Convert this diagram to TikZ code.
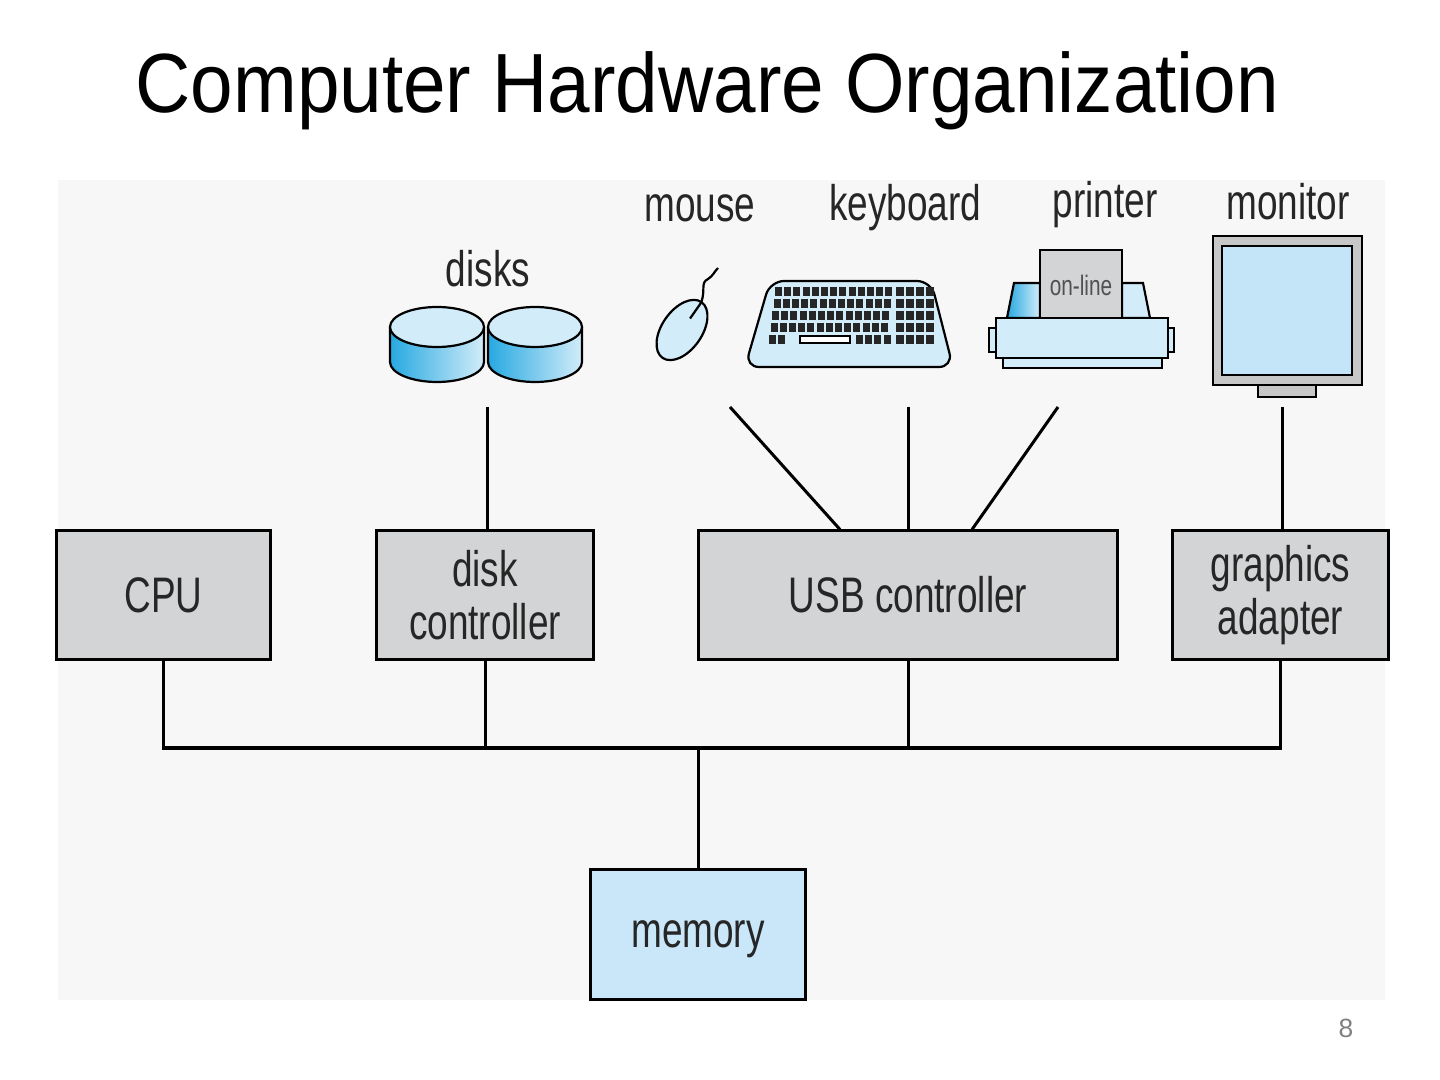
\documentclass[tikz,border=0pt]{standalone}
\usepackage{fontspec}
\setmainfont{Liberation Sans}
\newfontfamily\titlefont[FakeStretch=0.91]{Liberation Sans}
\newfontfamily\labelfont[FakeStretch=0.74]{Liberation Sans}
\definecolor{boxgray}{HTML}{D3D4D6}
\definecolor{memblue}{HTML}{C9E7F9}
\definecolor{devblue}{HTML}{D2ECF9}
\definecolor{scrblue}{HTML}{C4E4F7}
\definecolor{diskblue}{HTML}{27A9E1}
\definecolor{txt}{HTML}{262626}
\begin{document}
\begin{tikzpicture}[
          x = 0.01cm, y = -0.01cm,
          wire/.style = {draw, line width=0.03cm},
          part/.style = {draw, line width=0.022cm},
          box/.style = {draw, line width=0.03cm, fill=boxgray, minimum width=2.14cm,
                        minimum height=1.28cm, align=center, text=txt,
                        font=\labelfont\fontsize{14.2}{15.1}\selectfont},
          dev/.style = {anchor=base, text=txt, font=\labelfont\fontsize{14.2}{15.1}\selectfont},
        ]
        \useasboundingbox (0,0) rectangle (1440,1080);
        \fill[white] (0,0) rectangle (1440,1080);
        \fill[black!3] (58,180) rectangle (1385,1000);
        \node[anchor=base west, inner sep=0pt, font=\titlefont\fontsize{23.9}{26}\selectfont] (title) at (135,113) {Computer Hardware Organization};
        \node[anchor=base, text=gray, font=\fontsize{7.5}{9}\selectfont] (page) at (1346,1037) {8};
        % controllers and memory
        \node[box] (cpu) at (163.5,595) {CPU};
        \node[box, minimum width=2.16cm] (dc) at (485,595) {disk\\controller};
        \node[box, minimum width=4.18cm] (usb) at (908,595) {USB controller};
        \node[box, minimum width=2.15cm] (ga) at (1280.5,595) {graphics\\adapter};
        \node[box, fill=memblue, minimum height=1.29cm, text depth=0pt] (mem) at (698,934.5) {memory};
        % bus
        \coordinate (bus) at (700,748);
        \draw[wire] (cpu.south) |- (ga.south |- bus) -- (ga.south);
        \foreach \n/\a in {dc/south, usb/south, mem/north}
          \draw[wire] (\n.\a) -- (\n |- bus);
        % devices
        \node[dev] (tdisks) at (488,287) {disks};
        \node[dev] (tmouse) at (700,222) {mouse};
        \node[dev] (tkbd) at (905,221) {keyboard};
        \node[dev] (tprn) at (1105,218) {printer};
        \node[dev] (tmon) at (1288,220) {monitor};
        \foreach \x in {437,535} {
          \fill[left color=diskblue, right color=devblue] (\x-47,327) -- (\x-47,362)
            arc[start angle=180, end angle=0, x radius=47, y radius=20] -- (\x+47,327) -- cycle;
          \draw[part] (\x-47,327) -- (\x-47,362)
            arc[start angle=180, end angle=0, x radius=47, y radius=20] -- (\x+47,327);
          \draw[part, fill=devblue] (\x,327) ellipse [x radius=47, y radius=20];
        }
        \draw[part, fill=devblue, rotate around={-35:(682,330)}] (682,330) ellipse [x radius=20, y radius=34];
        \draw[part, rotate around={-35:(682,330)}] (682,297) -- (682,316);
        \draw[part] (701,303) .. controls (706,290) and (700,283) .. (708,279) .. controls (713,276) and (714,272) .. (718,268);
        \draw[part, fill=devblue, rounded corners=4] (745,367) -- (770,281) -- (931,281) -- (953,367) -- cycle;
        \foreach \r in {0,...,3}
          \foreach \c in {0,...,12}
            \fill[black!85] (775+\c*9.2-\r*1.5,287+\r*12) rectangle ++(7,9);
        \foreach \c in {0,1}
          \fill[black!85] (769+\c*9.2,335) rectangle ++(7,9);
        \draw[part, fill=white] (800,336) rectangle (850,343);
        \foreach \c in {0,...,3}
          \fill[black!85] (856+\c*9.2,335) rectangle ++(7,9);
        \foreach \r in {0,...,4}
          \foreach \c in {0,...,3}
            \fill[black!85] (896+\c*10,287+\r*12) rectangle ++(7.5,9);
        \draw[part, left color=diskblue, right color=devblue] (1007,318) -- (1014,283) -- (1040,283) -- (1040,318) -- cycle;
        \draw[part, fill=devblue] (1122,283) -- (1143,283) -- (1150,318) -- (1122,318) -- cycle;
        \draw[part, fill=boxgray] (1040,250) rectangle (1122,318);
        \node[text=txt!80, font=\labelfont\fontsize{8}{9}\selectfont] (online) at (1081,285) {on-line};
        \draw[part, fill=devblue] (989,328) rectangle (996,352);
        \draw[part, fill=devblue] (1168,328) rectangle (1174,352);
        \draw[part, fill=devblue] (1003,358) rectangle (1162,368);
        \draw[part, fill=devblue] (996,318) rectangle (1168,358);
        \draw[part, fill=black!22] (1213,236) rectangle (1362,385);
        \draw[part, fill=scrblue] (1222,246) rectangle (1352,375);
        \draw[part, fill=black!22] (1258,385) rectangle (1316,397);
        % device links
        \coordinate (dsk) at (487,407);
        \coordinate (ms) at (730,407);
        \coordinate (kb) at (908,407);
        \coordinate (pr) at (1058,407);
        \coordinate (mon) at (1282,407);
        \draw[wire] (dsk) -- (dsk |- dc.north);
        \draw[wire] (ms) -- ([xshift=-0.68cm]usb.north);
        \draw[wire] (kb) -- (kb |- usb.north);
        \draw[wire] (pr) -- ([xshift=0.64cm]usb.north);
        \draw[wire] (mon) -- (mon |- ga.north);
      \end{tikzpicture}
\end{document}
